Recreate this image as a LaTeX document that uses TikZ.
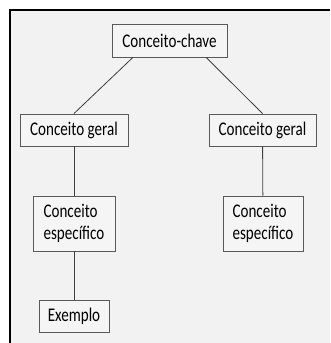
\documentclass[tikz,border=0pt]{standalone}
\usepackage{fontspec}
\setmainfont{Carlito}[FakeStretch=0.78]
\usepackage{tikz}

\begin{document}
\begin{tikzpicture}[x=0.03cm,y=-0.03cm,
		every node/.style={font=\fontsize{16.5}{19}\selectfont},
		caixa/.style={draw=black!65,fill=black!4,line width=0.8pt,inner sep=0pt,align=left},
		ligacao/.style={draw=black!75,line width=0.7pt}]
			\useasboundingbox (0,0) rectangle (330,343);
			\fill[black!5] (10,10) rectangle (330,343);
			\draw[line width=1pt] (10,343) -- (10,10) -- (330,10);
			\node[caixa,minimum width=3.45cm,minimum height=0.99cm] (chave) at (169.5,40.5) {Conceito-chave};
			\node[caixa,minimum width=3.24cm,minimum height=0.96cm] (geralA) at (74,130) {Conceito geral};
			\node[caixa,minimum width=3.21cm,minimum height=0.96cm] (geralB) at (262.5,130) {Conceito geral};
			\node[caixa,minimum width=2.46cm,minimum height=1.65cm] (especA) at (74,223.5) {Conceito\\específico};
			\node[caixa,minimum width=2.40cm,minimum height=1.65cm] (especB) at (263,223.5) {Conceito\\específico};
			\node[caixa,minimum width=2.10cm,minimum height=0.96cm] (exemplo) at (74,316) {Exemplo};
			\draw[ligacao] ([xshift=-1.1cm]chave.south) -- (geralA.north);
			\draw[ligacao] ([xshift=1.1cm]chave.south) -- (geralB.north);
			\draw[ligacao] (geralA) -- (especA);
			\draw[ligacao] (geralB) -- (especB);
			\draw[ligacao] (especA) -- (exemplo);
		\end{tikzpicture}
\end{document}
